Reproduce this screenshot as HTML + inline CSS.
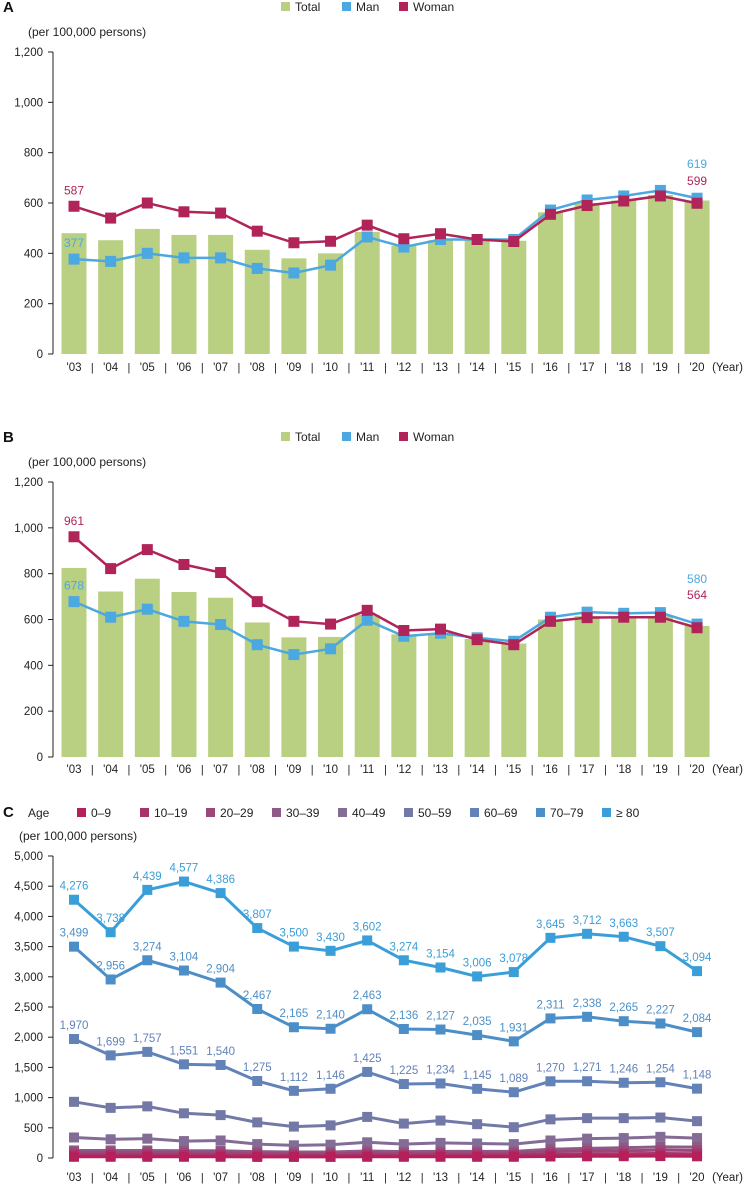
<!DOCTYPE html>
<html><head><meta charset="utf-8">
<style>
body{margin:0;background:#fff;font-family:"Liberation Sans",sans-serif;}
svg text{font-family:"Liberation Sans",sans-serif;}
</style></head>
<body>
<svg id="chart" width="745" height="1185" viewBox="0 0 745 1185" xmlns="http://www.w3.org/2000/svg"></svg>
<script>
const years = ["'03","'04","'05","'06","'07","'08","'09","'10","'11","'12","'13","'14","'15","'16","'17","'18","'19","'20"];
const aTotal = [480,452,497,473,473,414,380,400,485,430,452,455,450,563,600,610,632,610];
const aMan = [377,368,400,382,382,340,322,353,465,425,455,455,455,572,612,628,650,619];
const aWoman = [587,540,600,565,560,488,442,448,512,458,478,455,447,555,590,608,628,599];
const bTotal = [825,722,778,720,695,587,522,524,620,535,535,515,495,600,615,610,615,572];
const bMan = [678,610,645,592,578,490,447,472,597,527,540,520,505,610,632,627,630,580];
const bWoman = [961,822,905,840,805,678,592,580,640,552,558,512,490,592,608,610,610,564];
const yTicksAB = [0,200,400,600,800,1000,1200];
const yTicksC = [0,500,1000,1500,2000,2500,3000,3500,4000,4500,5000];
const ageGroups = ["0–9","10–19","20–29","30–39","40–49","50–59","60–69","70–79","≥ 80"];
const c0 = [20,20,20,20,20,18,18,18,20,20,20,20,20,25,28,30,32,28];
const c10 = [50,50,50,48,48,42,40,40,45,42,45,45,45,60,65,70,75,70];
const c20 = [90,90,90,85,85,75,70,70,80,75,80,80,80,105,115,120,130,125];
const c30 = [125,125,125,120,120,105,100,100,115,105,110,110,110,145,160,170,185,180];
const c40 = [340,310,320,280,290,230,210,220,260,230,250,240,230,290,320,330,350,330];
const c50 = [930,830,855,740,710,590,520,540,680,570,620,560,510,640,660,660,670,610];
const c60 = [1970,1699,1757,1551,1540,1275,1112,1146,1425,1225,1234,1145,1089,1270,1271,1246,1254,1148];
const c70 = [3499,2956,3274,3104,2904,2467,2165,2140,2463,2136,2127,2035,1931,2311,2338,2265,2227,2084];
const c80 = [4276,3738,4439,4577,4386,3807,3500,3430,3602,3274,3154,3006,3078,3645,3712,3663,3507,3094];
const labeled60 = ["1,970","1,699","1,757","1,551","1,540","1,275","1,112","1,146","1,425","1,225","1,234","1,145","1,089","1,270","1,271","1,246","1,254","1,148"];

const svg = document.getElementById('chart');
const NS = "http://www.w3.org/2000/svg";
function el(tag, attrs, parent){const e=document.createElementNS(NS,tag);for(const k in attrs)e.setAttribute(k,attrs[k]);(parent||svg).appendChild(e);return e;}
function txt(s, attrs, parent){const t=el('text',attrs,parent);t.textContent=s;return t;}
const X0 = 74, DX = 36.65;
function xp(i){return X0 + i*DX;}
const GREEN="#b9cf82", BLUE="#4ba8e0", RED="#b0245a";

function axes(g, top, bottom, max, ticks, labelY){
  const sc = v => bottom - (v/max)*(bottom-top);
  const ax = el('line',{x1:53,y1:top,x2:53,y2:bottom,stroke:"#222","stroke-width":1},g);
   
  ticks.forEach(t=>{
    el('line',{x1:48,y1:sc(t),x2:53,y2:sc(t),stroke:"#222","stroke-width":1},g);
    const l=txt(t.toLocaleString('en-US'),{x:43,y:sc(t)+4,"text-anchor":"end","font-size":11.5,fill:"#222"},g);
     
  });
  years.forEach((y,i)=>{
    const l=txt(y,{x:xp(i),y:labelY,"text-anchor":"middle","font-size":11.5,fill:"#222"},g);
     
    if(i<years.length-1) txt("|",{x:xp(i)+DX/2,y:labelY,"text-anchor":"middle","font-size":11,fill:"#222"},g);
  });
  const yl=txt("(Year)",{x:743,y:labelY,"text-anchor":"end","font-size":11.5,fill:"#222"},g);
   
  return sc;
}
function series(g, vals, sc, color, name, w, ms){
  const pts = vals.map((v,i)=>xp(i)+","+sc(v)).join(" ");
  const pl = el('polyline',{points:pts,fill:"none",stroke:color,"stroke-width":w},g);
   
  vals.forEach((v,i)=>{
    const r = el('rect',{x:xp(i)-ms/2,y:sc(v)-ms/2,width:ms,height:ms,fill:color},g);
     
  });
}
function legendAB(g, y){
  const items=[["Total",GREEN,281],["Man",BLUE,342],["Woman",RED,399]];
  items.forEach(it=>{
    const gi=el('g',{},g);
     
    el('rect',{x:it[2],y:y-5,width:9,height:9,fill:it[1]},gi);
    txt(it[0],{x:it[2]+14,y:y+4,"font-size":12,fill:"#222"},gi);
  });
}
function panelAB(name, letter, top, bottom, labelY, headY, total, man, woman, manLbl, womLbl){
  const g=el('g',{});
   
  const L=txt(letter,{x:3,y:headY+5,"font-size":15,"font-weight":"bold",fill:"#111"},g);
   
  legendAB(g, headY);
  const u=txt("(per 100,000 persons)",{x:28,y:headY+29,"font-size":12,fill:"#222"},g);
   
  const sc = axes(g, top, bottom, 1200, yTicksAB, labelY);
  total.forEach((v,i)=>{
    const r=el('rect',{x:xp(i)-12.5,y:sc(v),width:25,height:bottom-sc(v),fill:GREEN},g);
     
  });
  series(g, man, sc, BLUE, 'man', 2.5, 11);
  series(g, woman, sc, RED, 'woman', 2.5, 11);
  txt(String(woman[0]),{x:xp(0),y:sc(woman[0])-12,"text-anchor":"middle","font-size":12,fill:RED},g);
  txt(String(man[0]),{x:xp(0),y:sc(man[0])-12,"text-anchor":"middle","font-size":12,fill:BLUE},g);
  const n=years.length-1;
  txt(String(man[n]),{x:xp(n),y:manLbl,"text-anchor":"middle","font-size":12,fill:BLUE},g);
  txt(String(woman[n]),{x:xp(n),y:womLbl,"text-anchor":"middle","font-size":12,fill:RED},g);
}
panelAB('panel-a','A',52,354,371,7,aTotal,aMan,aWoman,168,185);
panelAB('panel-b','B',482,757,773,437,bTotal,bMan,bWoman,583,599);

// Panel C
const gc=el('g',{});
 
const LC=txt("C",{x:3,y:817,"font-size":15,"font-weight":"bold",fill:"#111"},gc);
 
const ageColors=["#b5205b","#a8336b","#9c4779","#8f5a87","#836c95","#7379a6","#6282b8","#4c8fc8","#3a9ed9"];
txt("Age",{x:28,y:817,"font-size":12,fill:"#222"},gc);
const legX=[77,140,206,272,338,404,470,536,602];
ageGroups.forEach((a,i)=>{
  const gi=el('g',{},gc);
   
  el('rect',{x:legX[i],y:808,width:9,height:9,fill:ageColors[i]},gi);
  txt(a,{x:legX[i]+14,y:817,"font-size":12,fill:"#222"},gi);
});
const uc=txt("(per 100,000 persons)",{x:19,y:840,"font-size":12,fill:"#222"},gc);
 
const scC = axes(gc, 856, 1158, 5000, yTicksC, 1181);
const cSeries=[c0,c10,c20,c30,c40,c50,c60,c70,c80];
const cNames=["age-0-9","age-10-19","age-20-29","age-30-39","age-40-49","age-50-59","age-60-69","age-70-79","age-80-plus"];
for(let k=cSeries.length-1;k>=0;k--) series(gc, cSeries[k], scC, ageColors[k], cNames[k], 3, 10);
function fmt(v){return v.toLocaleString('en-US');}
[[c80,ageColors[8]],[c70,ageColors[7]],[c60,ageColors[6]]].forEach(p=>{
  p[0].forEach((v,i)=>{
    const t=txt(fmt(v),{x:xp(i),y:scC(v)-10,"text-anchor":"middle","font-size":11.5,fill:p[1]},gc);
     
  });
});
</script>
</body></html>
